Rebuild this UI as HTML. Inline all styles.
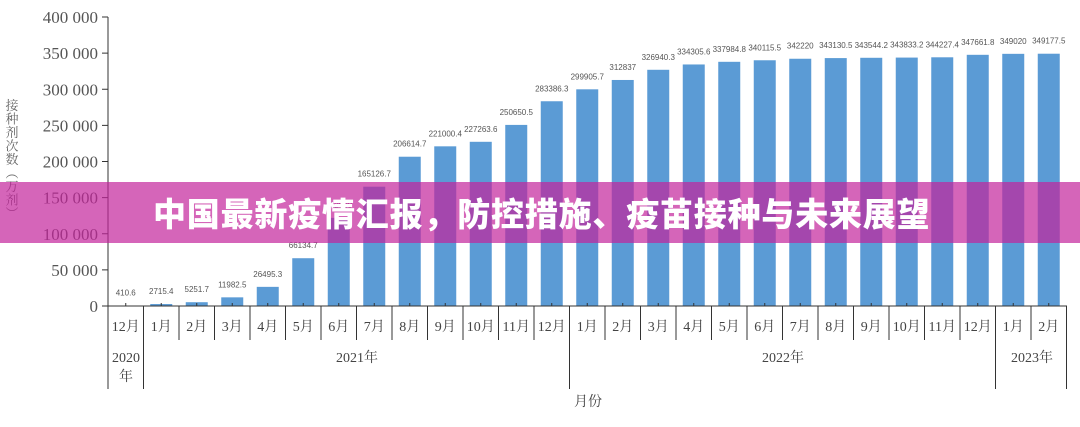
<!DOCTYPE html>
<html><head><meta charset="utf-8">
<style>
html,body{margin:0;padding:0;background:#fff;width:1080px;height:427px;overflow:hidden;position:relative}
svg{position:absolute;left:0;top:0}
.banner{position:absolute;left:0;top:182px;width:1080px;height:61px;background:rgba(195,35,155,0.7);}
.banner span{position:absolute;left:153px;top:0;line-height:60px;font:900 33px/60px "Noto Sans CJK SC",sans-serif;color:#fff;letter-spacing:0.8px;white-space:nowrap}
</style></head><body>
<svg id="c" width="1080" height="427" xmlns="http://www.w3.org/2000/svg"></svg>
<div class="banner"><span>中国最新疫情汇报，防控措施、疫苗接种与未来展望</span></div>
<script>
const vals=[410.6,2715.4,5251.7,11982.5,26495.3,66134.7,122000,165126.7,206614.7,221000.4,227263.6,250650.5,283386.3,299905.7,312837,326940.3,334305.6,337984.8,340115.5,342220,343130.5,343544.2,343833.2,344227.4,347661.8,349020,349177.5];
const months=["12月","1月","2月","3月","4月","5月","6月","7月","8月","9月","10月","11月","12月","1月","2月","3月","4月","5月","6月","7月","8月","9月","10月","11月","12月","1月","2月"];
const x0=108,w=35.5,y0=306,k=289/400000;
let s='';
const serif='font-family="Liberation Serif,Noto Serif CJK SC,serif"';
for(let i=0;i<=8;i++){const y=y0-i*50000*k;
 s+=`<line x1="102" x2="108" y1="${y}" y2="${y}" stroke="#333"/>`;
 const t=i==0?'0':(i*50)+' 000';
 s+=`<text x="98" y="${y+6}" text-anchor="end" font-size="17" fill="#555" ${serif}>${t}</text>`;}
vals.forEach((v,i)=>{const cx=x0+w*i+w/2,h=v*k;
 s+=`<rect x="${cx-11}" y="${y0-h}" width="22" height="${h}" fill="#5b9bd5"/>`;
 s+=`<line x1="${cx}" x2="${cx}" y1="${y0-3}" y2="${y0}" stroke="#333"/>`;
 s+=`<text x="${cx}" y="${y0-h-10}" text-anchor="middle" font-size="8" fill="#555" font-family="Liberation Sans,sans-serif">${v}</text>`;
 s+=`<text x="${cx}" y="${331}" text-anchor="middle" font-size="14" fill="#444" ${serif}>${months[i]}</text>`;});
for(let i=0;i<=27;i++){const x=x0+w*i;const long=[0,1,13,25,27].includes(i);
 s+=`<line x1="${x}" x2="${x}" y1="${y0}" y2="${long?389:340}" stroke="#333" stroke-width="1"/>`;}
s+=`<line x1="108" x2="108" y1="17" y2="306" stroke="#333"/>`;
s+=`<line x1="102" x2="1067" y1="306" y2="306" stroke="#333"/>`;
s+=`<text x="126" y="362" text-anchor="middle" font-size="14" fill="#444" ${serif}>2020</text>`;
s+=`<text x="126" y="381" text-anchor="middle" font-size="14" fill="#444" ${serif}>年</text>`;
s+=`<text x="357" y="362" text-anchor="middle" font-size="14" fill="#444" ${serif}>2021年</text>`;
s+=`<text x="783" y="362" text-anchor="middle" font-size="14" fill="#444" ${serif}>2022年</text>`;
s+=`<text x="1032" y="362" text-anchor="middle" font-size="14" fill="#444" ${serif}>2023年</text>`;
s+=`<text x="588" y="406" text-anchor="middle" font-size="14" fill="#444" ${serif}>月份</text>`;
const yl="接种剂次数︵万剂︶";
[...yl].forEach((c,i)=>{s+=`<text x="12" y="${110+i*13.5}" text-anchor="middle" font-size="13" fill="#666" ${serif}>${c}</text>`});
document.getElementById('c').innerHTML=s;
</script>
</body></html>
